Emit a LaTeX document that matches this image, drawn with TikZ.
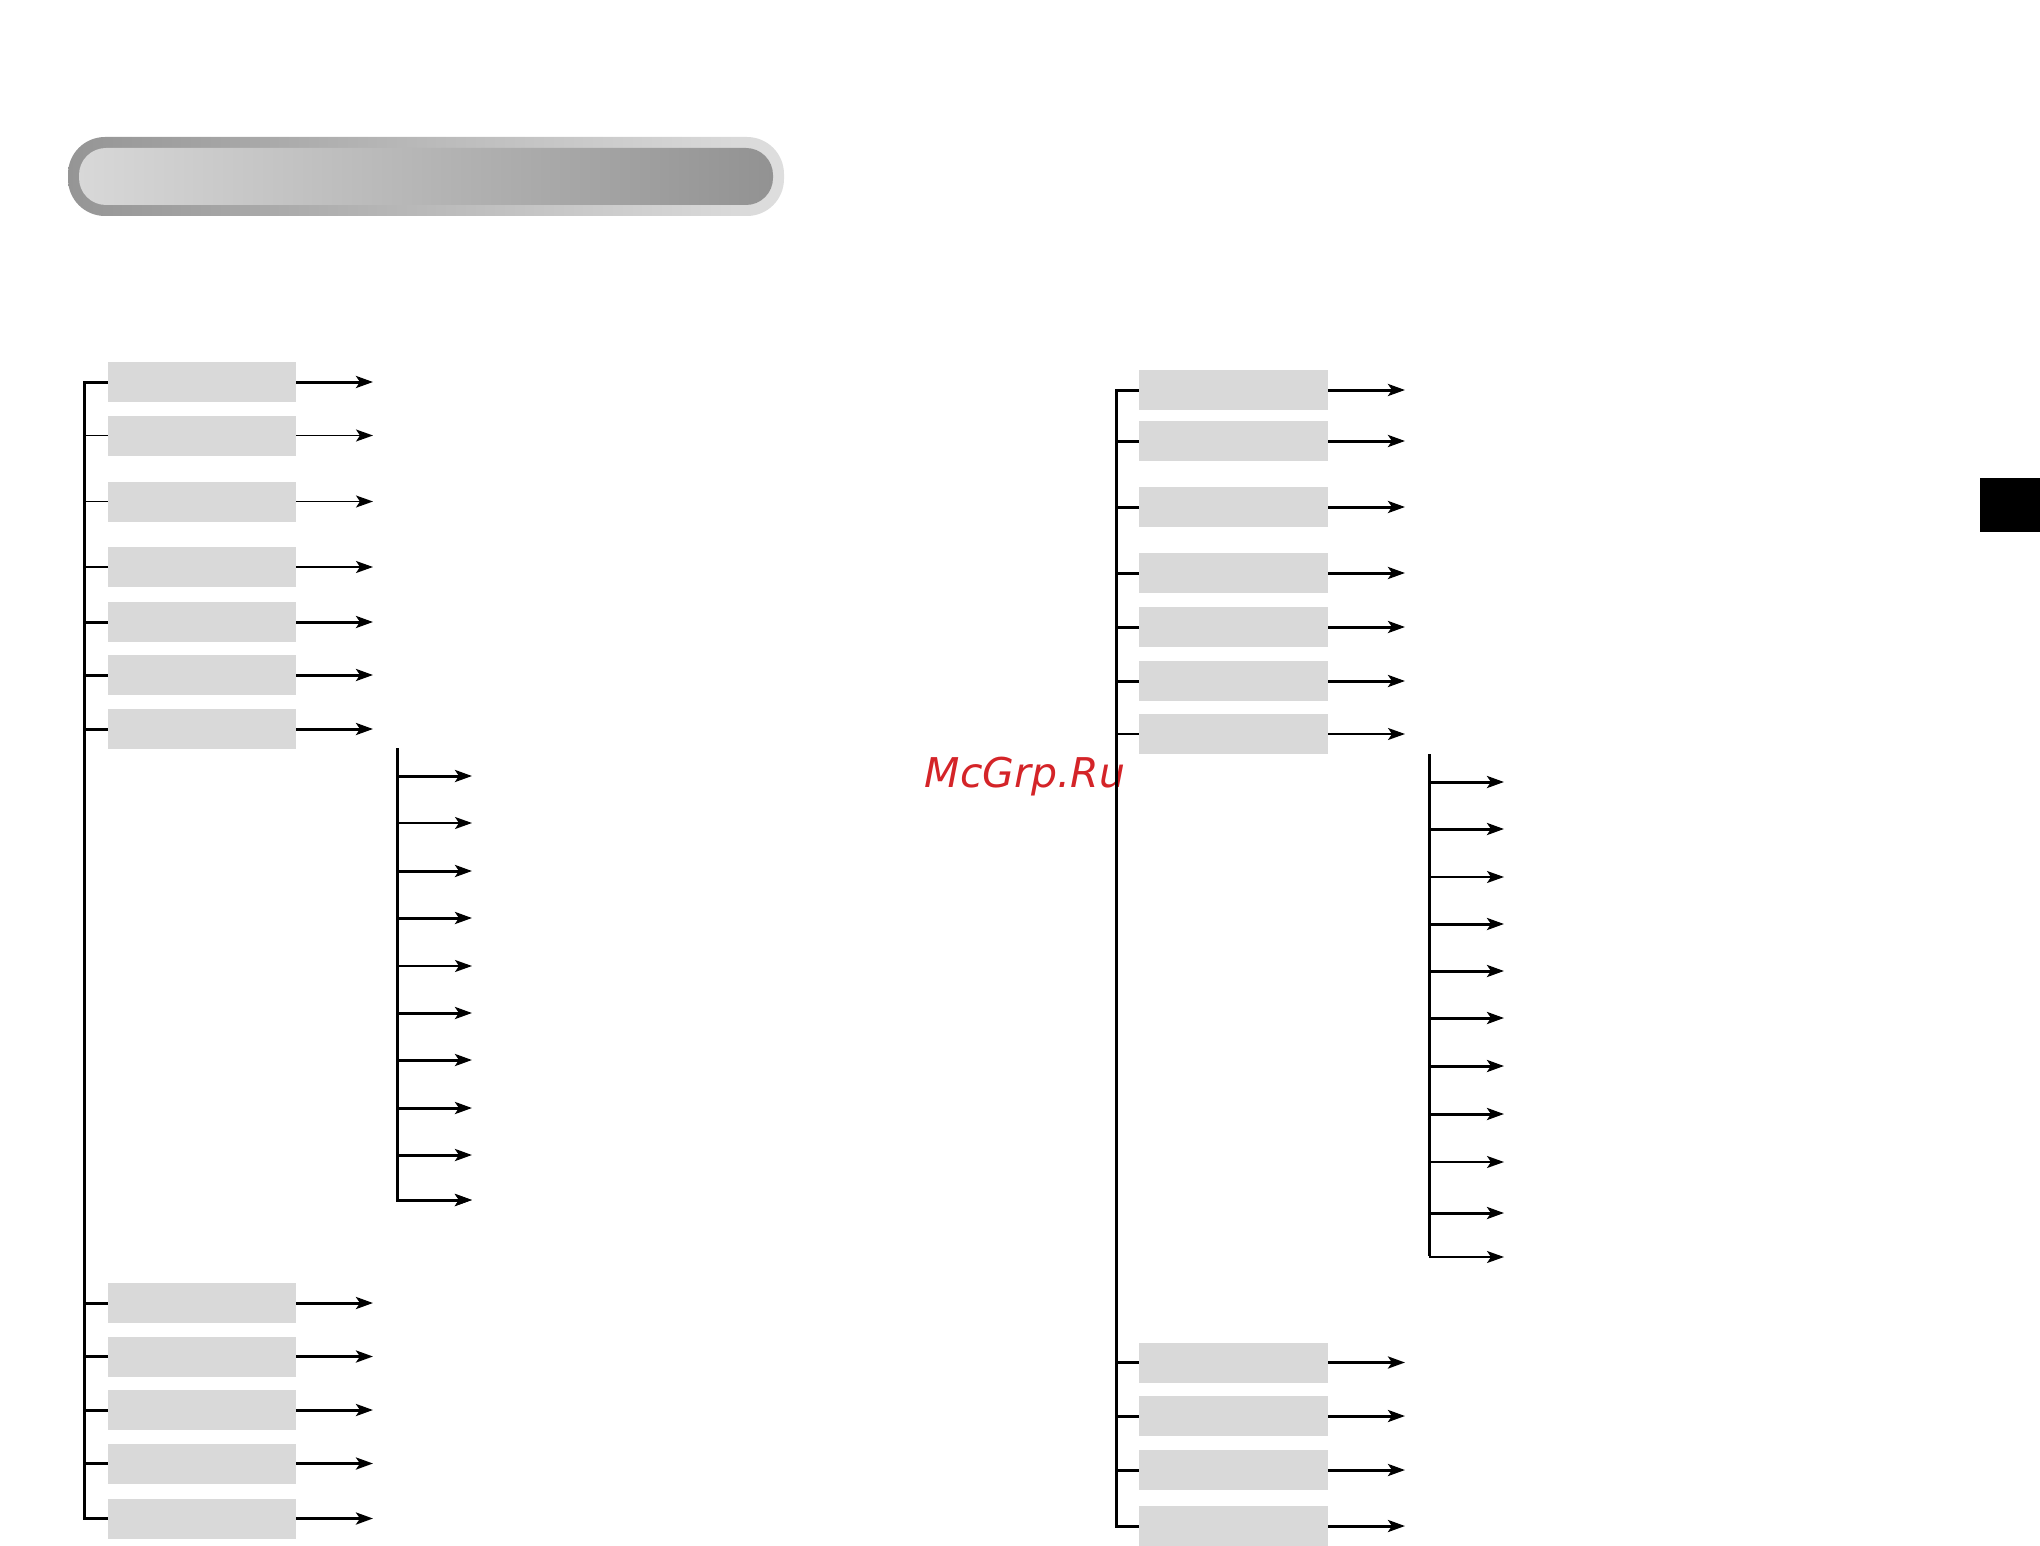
\documentclass[tikz,border=0pt]{standalone}
\usepackage{fontspec}
\newfontfamily\wmfont{DejaVu Sans}
\usetikzlibrary{arrows.meta}
\definecolor{boxgray}{HTML}{D9D9D9}
\definecolor{wmred}{RGB}{212,36,40}
\tikzset{
  box/.style={fill=boxgray, draw=none, inner sep=0pt, minimum height=40pt},
  lbox/.style={box, minimum width=188pt},
  rbox/.style={box, minimum width=189pt},
  thk/.style={line width=3pt, line join=miter},
  thn/.style={line width=1.5pt, line join=miter},
  arr/.style={-{Stealth[length=17pt, width=12pt, inset=4pt]}}
}
\begin{document}
\begin{tikzpicture}[x=1pt, y=-1pt]
\useasboundingbox (0,0) rectangle (2040,1546);

% title bar
\shade[left color={rgb,255:red,149;green,149;blue,149}, right color={rgb,255:red,222;green,222;blue,222}, rounded corners=37pt]
  (68,137) rectangle (784,216);
\shade[left color={rgb,255:red,216;green,216;blue,216}, right color={rgb,255:red,146;green,146;blue,146}, rounded corners=27pt]
  (79,148) rectangle (773,205);

% tab marker
\node[fill=black, inner sep=0pt, minimum width=60pt, minimum height=54pt] (tab) at (2010,505) {};

% watermark
\node[anchor=base, text=wmred, inner sep=0pt, font={\wmfont\itshape\fontsize{41}{44}\selectfont}] (wm) at (1025,787) {McGrp.Ru};

% reference coordinates
\coordinate (LV) at (84,0);
\coordinate (LE) at (373,0);
\coordinate (SV) at (397,0);
\coordinate (SE) at (472,0);
\coordinate (RV) at (1116,0);
\coordinate (RE) at (1405,0);
\coordinate (TV) at (1429,0);
\coordinate (TE) at (1504,0);

% ---------- left tree ----------
\foreach \y/\w [count=\i] in {382/thk,435.5/thn,501.5/thn,567/thn,622/thk,675/thk,729/thk}{
  \node[lbox] (LA\i) at (202,\y) {};
  \draw[\w] (LA\i.west) -- (LA\i.west -| LV);
  \draw[\w,arr] (LA\i.east) -- (LA\i.east -| LE);
}
\foreach \y [count=\i] in {1303,1356.5,1410,1463.5,1518.5}{
  \node[lbox] (LB\i) at (202,\y) {};
  \draw[thk] (LB\i.west) -- (LB\i.west -| LV);
  \draw[thk,arr] (LB\i.east) -- (LB\i.east -| LE);
}
\draw[thk] (LA1.west) -- (LA1.west -| LV) -- (LB5.west -| LV) -- (LB5.west);

% left sub tree
\coordinate (Stop) at (397,748);
\foreach \y/\w [count=\i] in {776/thk,823/thn,871/thk,918/thk,966/thn,1013/thk,1060/thk,1108/thk,1155/thk,1200/thk}{
  \coordinate (S\i) at (397,\y);
  \draw[\w,arr] (S\i) -- (S\i -| SE);
}
\draw[thk,arr] (Stop) -- (S10) -- (S10 -| SE);

% ---------- right tree ----------
\foreach \y/\w [count=\i] in {390/thk,441/thk,507/thk,573/thk,627/thk,681/thk,734/thn}{
  \node[rbox] (RA\i) at (1233.5,\y) {};
  \draw[\w] (RA\i.west) -- (RA\i.west -| RV);
  \draw[\w,arr] (RA\i.east) -- (RA\i.east -| RE);
}
\foreach \y [count=\i] in {1362.5,1416,1470,1526}{
  \node[rbox] (RB\i) at (1233.5,\y) {};
  \draw[thk] (RB\i.west) -- (RB\i.west -| RV);
  \draw[thk,arr] (RB\i.east) -- (RB\i.east -| RE);
}
\draw[thk] (RA1.west) -- (RA1.west -| RV) -- (RB4.west -| RV) -- (RB4.west);

% right sub tree
\coordinate (Ttop) at (1429,754);
\foreach \y/\w [count=\i] in {782/thk,829/thk,877/thn,924/thk,971/thk,1018/thk,1066/thk,1114/thk,1162/thn,1213/thk,1257/thn}{
  \coordinate (T\i) at (1429,\y);
  \draw[\w,arr] (T\i) -- (T\i -| TE);
}
\draw[thk] (Ttop) -- ([yshift=0.75pt]T11);
\end{tikzpicture}
\end{document}
